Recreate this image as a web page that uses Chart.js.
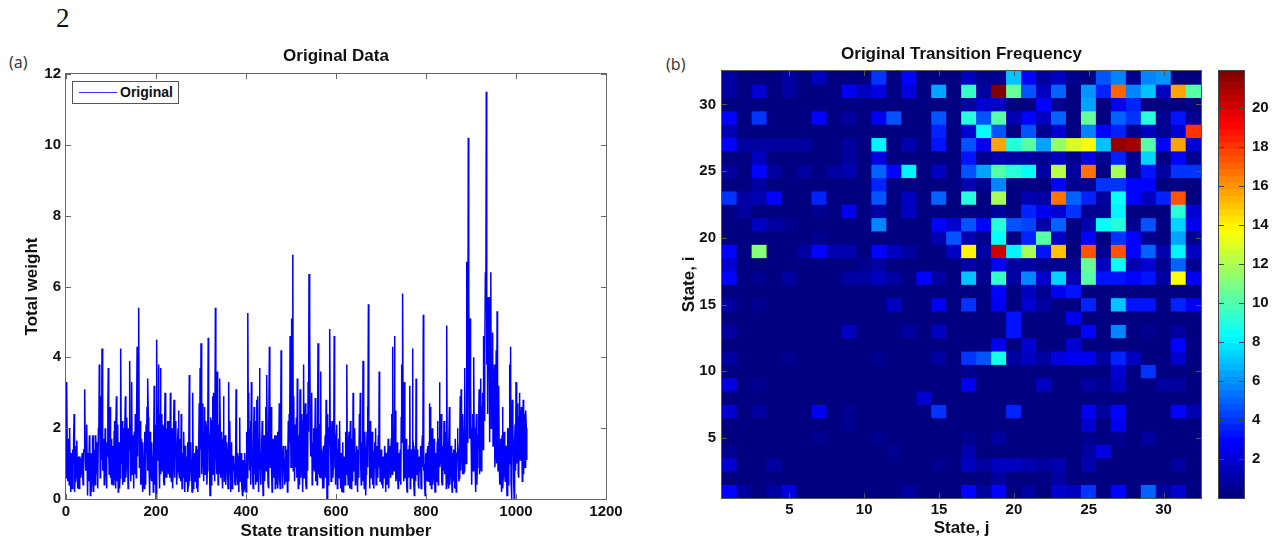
<!DOCTYPE html>
<html>
<head>
<meta charset="utf-8">
<script src="https://cdn.jsdelivr.net/npm/chart.js@4"></script>
<style>
  html, body { margin: 0; padding: 0; background: #fff; }
  body { position: relative; width: 1281px; height: 548px; overflow: hidden; }
  .box { position: absolute; }
  .note { position: absolute; color: #3a3a3a; font: 16px "Noto Sans", sans-serif; }
  #legend { position: absolute; left: 72px; top: 81px; width: 105px; height: 21px; background: #fff;
    border: 1px solid #555; font: bold 14px "Liberation Sans", sans-serif; color: #111; line-height: 21px; }
  #legend i { position: absolute; left: 6px; top: 10px; width: 38px; height: 1px; background: #3333ee; }
  #legend span { position: absolute; left: 47px; top: 0; }
</style>
</head>
<body>
<div class="note" style="left:56px;top:3px;font:27px 'Liberation Serif',serif;color:#111">2</div>
<div class="note" style="left:9px;top:51px">(a)</div>
<div class="note" style="left:666px;top:53px">(b)</div>
<div class="box" style="left:0;top:40px;width:640px;height:508px"><canvas id="weightChart"></canvas></div>
<div class="box" style="left:660px;top:40px;width:555px;height:508px"><canvas id="heatChart"></canvas></div>
<div class="box" style="left:1215px;top:41px;width:66px;height:487px"><canvas id="barChart"></canvas></div>
<div id="legend"><i></i><span>Original</span></div>
<script>
// left panel: total weight, even transition numbers first
const evenWeights = [
  0.6,3.3,0.5,1.7,2.0,0.2,1.3,0.3,1.0,2.4,0.5,1.1,1.65,0.3,1.2,0.7,1.1,0.9,1.3,0.4,1.4,3.1,0.8,2.1,0.1,
  1.2,1.8,0.1,1.3,0.5,1.8,0.2,1.1,1.8,0.7,1.5,2.0,3.8,0.6,2.9,4.25,0.8,1.7,0.9,1.5,0.3,1.2,3.7,0.7,2.6,
  1.0,0.4,1.5,0.8,2.2,0.3,2.9,1.1,0.2,1.6,0.6,4.25,1.5,0.4,2.0,0.7,2.9,0.9,1.8,0.3,1.4,3.9,0.5,3.3,1.2,
  0.3,1.9,2.4,0.6,4.3,3.0,5.4,2.1,0.4,1.7,0.2,1.0,0.3,1.2,2.1,2.6,3.4,1.4,0.1,1.3,0.5,0.9,0.2,3.2,1.0,
  0.0,4.5,1.6,3.8,0.3,3.7,2.4,0.8,2.0,0.4,3.0,1.2,0.6,2.2,0.7,1.8,3.0,0.5,2.0,0.9,2.8,1.1,2.2,0.4,1.6,
  2.5,0.6,1.7,2.4,0.3,1.3,1.9,0.2,1.2,0.7,1.6,0.4,3.5,0.9,1.1,0.2,3.0,0.6,1.3,1.1,0.3,1.4,0.8,2.7,3.7,
  4.4,0.7,2.7,0.5,2.6,1.5,2.0,0.8,4.55,1.8,0.1,2.3,1.4,2.9,3.0,1.6,5.4,1.2,3.6,0.4,2.1,3.4,0.6,1.9,0.3,
  2.9,0.5,1.8,0.9,1.4,0.3,3.3,2.2,0.2,1.6,0.5,1.2,1.0,0.4,3.1,0.7,1.3,0.2,2.3,0.6,1.0,0.1,1.1,0.3,1.0,
  0.2,1.9,5.25,3.0,0.8,2.2,3.3,1.1,0.3,2.6,1.7,0.4,2.8,2.9,0.2,3.7,0.9,1.3,2.2,0.1,1.8,0.5,2.6,3.5,1.0,
  0.3,4.3,0.9,2.6,0.2,1.7,0.6,1.8,1.5,0.4,1.9,0.8,2.7,0.3,4.2,1.1,0.6,1.3,0.4,1.5,1.0,0.2,2.2,2.4,4.6,
  0.9,5.1,6.9,2.9,0.5,1.7,2.3,3.4,0.3,1.8,3.1,0.6,2.4,0.2,3.8,1.2,2.7,0.3,1.6,3.3,6.35,4.8,1.2,3.0,0.7,
  2.0,0.8,2.85,1.3,0.4,4.4,1.8,0.6,3.6,1.4,0.3,1.5,0.9,1.8,2.8,0.0,2.4,1.1,4.8,1.5,0.6,2.2,0.9,4.6,1.8,
  1.1,2.1,0.5,1.7,2.2,0.3,1.3,0.7,0.2,1.2,0.4,1.9,3.8,0.9,1.6,0.6,2.2,0.3,1.7,3.0,0.8,2.0,0.5,1.5,0.2,
  1.1,2.4,3.0,0.4,1.6,3.9,0.7,1.9,0.1,1.2,2.6,5.5,1.6,2.2,0.6,1.9,1.4,0.3,1.6,2.0,0.6,1.3,1.8,3.6,0.5,
  1.4,0.9,0.3,1.2,1.5,0.2,1.3,0.5,1.7,0.8,1.3,1.1,2.4,4.3,1.2,4.6,2.5,0.6,1.6,0.3,1.2,0.9,0.4,3.8,5.8,
  1.0,3.3,0.6,1.7,0.2,1.4,1.0,3.2,0.5,1.3,4.25,1.5,0.1,1.1,3.4,0.7,1.3,0.3,1.1,1.5,0.4,1.8,5.2,1.0,0.1,
  1.3,0.5,1.5,0.8,2.7,2.6,0.3,2.0,0.7,1.7,0.2,1.3,0.9,2.2,0.6,3.3,1.1,2.4,0.4,1.5,2.2,0.7,1.9,4.9,1.0,
  0.3,2.6,0.8,1.5,0.2,1.2,1.4,0.3,1.7,0.5,2.0,1.3,0.6,2.9,3.1,1.2,2.4,0.7,3.7,1.8,6.7,1.6,10.2,4.1,5.1,
  2.0,0.4,2.4,4.0,1.2,0.2,2.4,0.9,1.8,3.1,1.0,3.4,1.5,3.0,4.6,2.2,6.4,11.5,5.7,5.3,5.7,2.6,6.4,3.5,4.7,
  2.0,3.8,1.4,4.2,5.3,0.8,3.2,0.4,1.7,0.2,2.6,0.7,1.9,0.5,1.5,0.1,2.0,0.6,3.8,4.3,0.0,2.8,1.2,0.0,2.1,
  3.3,1.0,2.7,0.6,3.0,1.2,2.6,0.5,2.8,2.4,0.9,2.5,1.1
];
// the odd transition numbers that fall between them
const oddWeights = [
  1.2,0.9,1.6,0.4,1.0,0.8,0.3,1.4,1.7,0.2,1.5,0.6,0.9,1.0,0.3,1.2,0.6,1.1,0.7,1.3,2.0,1.1,1.4,0.9,1.3,
  0.5,1.3,1.1,0.2,1.7,0.6,1.4,0.4,1.3,1.6,0.3,1.9,2.4,1.7,1.1,2.3,1.2,0.4,2.0,0.8,1.6,2.5,1.3,1.8,0.6,
  1.7,1.2,0.4,1.9,0.7,1.8,0.5,2.1,1.5,0.3,2.6,1.0,2.2,1.3,0.5,1.9,0.6,2.3,1.1,2.0,2.5,1.2,2.1,0.7,1.8,
  1.4,0.7,1.6,2.5,1.2,3.6,0.9,2.2,1.1,0.6,1.6,0.5,1.9,0.4,1.3,0.8,2.3,0.6,1.9,0.7,1.6,1.2,1.8,0.4,2.1,
  2.3,1.1,2.6,0.9,2.4,0.7,1.4,2.1,0.5,1.7,0.6,2.0,1.4,0.9,2.2,0.6,1.4,1.7,0.3,1.9,0.6,1.7,1.2,0.8,2.0,
  0.8,1.4,0.5,1.0,1.1,0.6,0.9,1.5,0.5,1.2,0.2,1.8,0.5,1.6,0.9,1.4,0.3,1.2,0.5,1.5,0.9,0.2,1.6,0.6,1.4,
  1.2,2.0,1.0,1.9,0.7,2.2,0.4,1.8,2.0,0.9,1.6,0.4,2.2,0.7,2.1,0.5,2.6,0.7,2.0,1.3,0.7,1.8,1.3,0.6,1.7,
  1.3,1.1,0.4,1.6,0.8,1.5,0.7,1.0,1.4,0.3,1.2,0.8,0.5,1.2,1.6,0.4,1.0,1.2,0.5,1.3,0.4,0.9,0.2,1.3,0.6,
  1.4,0.6,2.3,1.3,2.0,0.4,1.9,0.5,1.8,0.7,2.2,1.1,0.5,1.7,1.2,2.0,0.4,1.6,0.7,1.5,0.9,1.7,0.8,1.9,0.4,
  1.9,2.4,1.3,0.7,1.4,0.9,1.2,0.3,1.8,1.2,0.3,1.6,0.5,1.9,1.5,0.3,1.5,0.8,1.1,0.5,1.4,1.3,0.5,1.6,2.2,
  2.6,1.8,0.8,1.5,2.1,0.9,0.6,1.9,1.2,0.4,1.7,1.5,0.9,2.2,0.6,1.6,0.4,2.4,0.8,1.9,3.1,1.7,2.1,0.4,1.6,
  1.1,1.6,0.5,2.0,1.9,0.7,1.1,2.1,0.6,1.0,0.8,0.3,1.4,0.6,1.7,1.2,0.4,2.0,2.2,0.5,1.7,0.6,1.6,2.0,0.4,
  1.6,0.3,1.4,0.6,0.9,1.0,0.2,1.6,1.1,0.5,1.3,0.7,1.4,0.4,1.9,0.3,1.5,1.1,0.5,1.6,1.2,0.4,1.3,0.8,1.4,
  0.6,1.7,0.9,1.2,0.5,1.6,0.3,1.4,0.7,1.9,0.9,1.8,0.3,1.5,0.7,0.4,1.3,0.9,1.1,0.4,1.5,0.6,0.9,1.2,1.0,
  0.4,1.2,0.7,0.6,1.3,0.8,0.4,1.2,0.3,1.5,0.6,1.7,0.7,2.0,0.8,1.9,0.5,1.4,0.7,1.3,0.5,1.4,2.3,1.6,2.7,
  0.5,1.2,1.3,0.4,1.1,0.6,1.5,0.3,1.4,0.6,1.7,0.4,1.4,0.5,1.0,1.4,0.4,1.2,0.8,0.3,1.3,0.9,0.8,0.4,1.2,
  0.6,1.4,0.5,1.6,0.4,1.2,1.1,0.4,1.5,0.6,1.1,0.5,1.6,0.4,1.7,0.9,1.6,0.5,1.4,0.8,1.3,1.2,0.3,1.6,0.5,
  1.5,0.4,1.4,0.6,1.3,0.5,1.0,1.7,0.2,1.3,1.6,0.5,1.5,0.8,1.8,0.7,1.7,0.8,1.9,1.0,2.4,3.0,5.6,1.7,3.2,
  1.3,1.9,0.8,2.0,1.0,1.6,0.4,1.3,2.2,0.7,2.1,0.8,2.6,1.4,2.9,4.0,5.4,3.8,2.4,4.6,1.6,3.6,2.0,3.1,1.5,
  2.6,0.9,2.8,1.0,2.0,2.4,0.9,1.4,0.6,1.8,0.3,1.5,0.7,1.3,0.8,1.2,0.4,2.0,1.0,0.5,1.7,2.2,0.4,1.6,0.8,
  1.6,2.0,0.7,2.3,1.1,2.0,1.5,1.2,0.7,2.3,1.5,2.0
];
const weightXTicks = [0, 200, 400, 600, 800, 1000, 1200];
const weightYTicks = [0, 2, 4, 6, 8, 10, 12];

// right panel: transition counts, first row is state i = 32, last row is state i = 1
const frequencyRows = [
  [1,0,0,0,1,0,1.5,0,0,0,4,0,2.8,0,0,0,1.5,.5,.5,7,2.8,1,1.7,.5,.3,4.5,5.5,.5,5.5,6,0,0],
  [.8,0,2,0,1,0,0,0,2.7,1.7,2.3,0,2.2,0,6.5,0,9.5,1,22,10.5,4.5,1.7,5,.3,6,3.5,17,5.5,7,1.7,15.5,10],
  [0,0,0,0,0,0,0,0,0,0,0,0,0,0,0,0,.8,2,1.5,.3,0,3,.5,0,6.5,0,2.5,3.5,0,0,0,0],
  [3,0,4,0,0,0,3,0,1,0,2.7,4.5,0,0,4.5,0,9,4.5,10,1.2,3,1.5,5,0,10.5,0,5,4,9,.5,3.3,.5],
  [1.2,0,0,0,0,0,0,0,0,0,0,0,0,0,3.5,0,2,8.3,4.5,.3,4.5,.5,2,0,5.5,3,3.5,.5,1.5,.5,2,18],
  [3,1,1,1,1,.7,0,0,1,0,8,0,1.3,0,3.2,0,4.5,2.7,15.5,9,10,6.5,11.5,12.8,13.7,7,21.5,21,10,3,15.5,2],
  [0,0,1.5,0,0,0,0,0,1,0,2.3,0,0,0,0,0,3.3,.5,1.3,.7,1,.5,1.5,.5,2.3,.4,3.5,.4,7.3,.3,2.8,.5],
  [1,0,3,.7,0,1,0,.7,1.2,0,5,2.8,8,0,1.5,0,4.5,6.3,10,9,8.3,1,12.3,1,16.5,.2,12,.4,3.2,1,4,4],
  [0,0,.8,0,0,0,0,0,0,0,3.5,0,0,0,0,0,1.3,.5,5.5,.2,.2,.2,3,.4,.5,4,4,2.8,2.8,0,0,0],
  [4,1,1.2,3,0,0,3.7,0,0,0,4.5,0,1.5,0,5,0,9,0,12,.3,1.2,1,16.5,5,3.5,1,8.3,3,1.5,3.5,17.5,.3],
  [0,1,0,0,0,0,.5,0,2.7,0,1,0,1.7,0,0,0,.3,.3,.8,0,3.5,2.7,2,3.8,.6,.4,8,0,0,0,9,2],
  [0,0,1.7,1,.6,0,0,0,0,0,5.5,0,0,0,3,1.8,4.5,2.8,9,4.7,4.2,1,5,.2,1.2,8.3,9,.5,4.5,.3,7.5,2.5],
  [0,0,0,0,0,0,.5,0,0,0,0,0,0,0,1.2,4.5,1.3,.6,8.3,.2,3.5,10.3,1.5,.3,3,.3,3.8,3,.5,.3,6.3,.4],
  [3,0,11,0,0,.8,3,1.3,1.3,0,3,1.5,.8,0,0,1.7,14,1,20,8,12,3.2,15,.3,17.5,.5,17.5,3,5,1.3,8,1.5],
  [2,0,0,0,0,0,0,0,0,.6,1,0,0,0,0,0,.8,.6,2.7,.8,.8,.5,.5,.5,10.5,1.7,8.5,1.3,1.8,.5,5,.5],
  [3,0,.5,0,.7,0,0,0,1,.7,1.7,.7,0,3,1,0,7,.4,9.5,1,5.5,2,7.5,1.3,10,3.3,3.3,2.8,3.3,1,13.5,2.7],
  [0,0,0,0,0,0,0,0,0,0,0,0,0,0,0,0,0,0,2.8,0,1.7,.4,2.5,3.3,0,0,0,0,0,0,0,0],
  [.7,0,.4,0,0,0,0,0,0,0,0,1.5,0,0,2.7,0,3.8,0,2.7,0,1.8,.8,0,0,3.5,0,7,3.3,3.3,0,3.5,2.5],
  [0,0,0,0,0,0,0,0,0,0,0,0,0,0,0,0,.3,0,0,3.2,0,0,0,2.7,0,0,0,0,0,0,0,0],
  [1,0,0,0,0,0,0,0,1.5,0,0,0,.7,0,1.5,0,0,0,0,3.3,0,0,0,0,3,0,5.5,0,.4,0,.7,0],
  [0,0,0,0,0,0,0,0,0,0,0,0,0,0,0,0,0,0,2.7,0,1.8,0,0,2,0,0,0,0,0,0,2.8,0],
  [.9,0,0,0,.5,0,0,0,0,0,.5,0,0,0,.8,0,4,4.5,8.7,1,1.5,1,2.3,2.7,2.7,1,3.7,1.5,0,0,2,0],
  [0,0,0,0,0,0,0,0,0,0,0,0,0,0,0,0,.6,0,0,0,0,0,0,0,0,0,1.8,0,3.8,0,0,0],
  [2.2,0,.5,0,0,0,0,0,0,0,0,0,0,0,0,0,2.7,0,0,0,0,1.5,0,0,.8,.5,1.7,0,0,1,.7,0],
  [0,0,0,0,0,0,0,0,0,0,0,0,0,1.8,0,0,0,0,0,0,0,0,0,0,0,.3,.2,0,.3,0,0,0],
  [2,0,1,0,0,0,2.5,0,.5,0,0,0,0,0,3.8,0,0,0,0,3.5,0,0,0,0,2.7,.8,3,0,0,0,3,1.3],
  [0,0,0,0,0,0,0,0,.4,0,0,0,0,0,0,0,0,0,0,0,0,0,0,0,1.8,0,2.7,0,0,0,0,0],
  [0,0,0,0,0,0,.4,0,0,0,.4,0,0,0,0,0,.5,0,.8,0,0,0,0,0,.6,0,.4,0,.8,0,0,0],
  [.6,0,0,0,0,0,0,0,0,0,0,.4,0,0,0,0,1.1,0,0,0,0,0,0,0,.8,2.3,0,0,0,0,0,0],
  [2,0,0,1,0,0,0,0,0,0,0,0,0,0,.4,0,1.6,1,1.4,1.5,1.3,.7,1.2,0,1.1,0,.3,0,.3,0,1,0],
  [0,0,0,0,0,0,0,0,0,0,0,0,0,0,0,0,0,0,1,0,0,0,1,0,0,0,0,0,0,0,0,0],
  [3,1,0,.8,2.2,0,0,0,0,0,0,0,1,0,0,0,3,1,3,0,.9,0,1.8,1.5,4,0,3,0,5,1,2,0]
];
const stateLabels = ['1','2','3','4','5','6','7','8','9','10','11','12','13','14','15','16','17','18','19','20','21','22','23','24','25','26','27','28','29','30','31','32'];
const stateTicks = [5, 10, 15, 20, 25, 30];
const colorbarTicks = [2, 4, 6, 8, 10, 12, 14, 16, 18, 20];
const maxFrequency = 22;

const tickFont = { family: '"Liberation Sans", Arial, sans-serif', size: 15, weight: 'bold' };
const titleFont = { family: '"Liberation Sans", Arial, sans-serif', size: 17, weight: 'bold' };
const inkColor = '#111';

// jet colormap, 64 steps like matlab
function jet(value) {
  const t = Math.min(Math.floor(value / maxFrequency * 64), 63) / 63;
  const c = x => Math.round(255 * Math.max(0, Math.min(1, x)));
  const r = c(Math.min(4 * t - 1.5, -4 * t + 4.5));
  const g = c(Math.min(4 * t - 0.5, -4 * t + 3.5));
  const b = c(Math.min(4 * t + 0.5, -4 * t + 2.5));
  return `rgb(${r},${g},${b})`;
}

// matlab style box with small ticks pointing inwards
const boxTicks = {
  id: 'boxTicks',
  afterDatasetsDraw(chart, args, opts) {
    const { ctx, chartArea: a, scales } = chart;
    ctx.save();
    ctx.strokeStyle = opts.color;
    ctx.lineWidth = 1;
    ctx.strokeRect(a.left - 0.5, a.top - 0.5, a.right - a.left + 1, a.bottom - a.top + 1);
    ctx.beginPath();
    if (scales.x && opts.xTicks) {
      opts.xTicks.forEach(v => {
        const px = Math.round(scales.x.getPixelForValue(v)) + 0.5;
        ctx.moveTo(px, a.bottom); ctx.lineTo(px, a.bottom - 5);
        ctx.moveTo(px, a.top); ctx.lineTo(px, a.top + 5);
      });
    }
    opts.yTicks.forEach(v => {
      const py = Math.round(scales.y.getPixelForValue(v)) + 0.5;
      ctx.moveTo(a.left, py); ctx.lineTo(a.left + 5, py);
      ctx.moveTo(a.right, py); ctx.lineTo(a.right - 5, py);
    });
    ctx.stroke();
    ctx.restore();
  }
};

// navy under the cells so no seams show between them
const cellBackground = {
  id: 'cellBackground',
  beforeDatasetsDraw(chart) {
    const { ctx, chartArea: a } = chart;
    ctx.save();
    ctx.fillStyle = jet(0);
    ctx.fillRect(a.left, a.top, a.right - a.left, a.bottom - a.top);
    ctx.restore();
  }
};

const setTicks = list => scale => { scale.ticks = list.map(v => ({ value: v })); };
const fixWidth = w => scale => { scale.width = w; };
const fixHeight = h => scale => { scale.height = h; };
const plainNumber = value => String(value);
const noGrid = { display: false, drawTicks: false };

// put the even and odd readings back in transition order
const weightPoints = [];
evenWeights.forEach((w, i) => {
  weightPoints.push({ x: i * 2, y: w });
  if (i < oddWeights.length) weightPoints.push({ x: i * 2 + 1, y: oddWeights[i] });
});

// 1. original data line
new Chart(document.getElementById('weightChart'), {
  type: 'line',
  data: {
    datasets: [{
      label: 'Original',
      data: weightPoints,
      borderColor: '#0000ff',
      borderWidth: 1.5,
      pointRadius: 0,
      tension: 0
    }]
  },
  options: {
    responsive: true,
    maintainAspectRatio: false,
    animation: false,
    layout: { padding: { left: 0, right: 34, top: 0, bottom: 0 } },
    plugins: {
      legend: { display: false },
      tooltip: { enabled: false },
      title: { display: true, text: 'Original Data', fullSize: false, color: inkColor, font: titleFont, padding: { top: 6, bottom: 7.6 } },
      boxTicks: { color: '#666', xTicks: weightXTicks, yTicks: weightYTicks }
    },
    scales: {
      x: {
        type: 'linear', min: 0, max: 1200,
        afterBuildTicks: setTicks(weightXTicks),
        afterFit: fixHeight(49),
        grid: noGrid,
        border: { display: false },
        ticks: { color: inkColor, font: tickFont, maxRotation: 0, padding: 4, callback: plainNumber },
        title: { display: true, text: 'State transition number', color: inkColor, font: titleFont, padding: { top: 2, bottom: 6 } }
      },
      y: {
        min: 0, max: 12,
        afterBuildTicks: setTicks(weightYTicks),
        afterFit: fixWidth(66),
        grid: noGrid,
        border: { display: false },
        ticks: { color: inkColor, font: tickFont, padding: 5, callback: plainNumber },
        title: { display: true, text: 'Total weight', color: inkColor, font: titleFont, padding: { top: 22, bottom: 0 } }
      }
    }
  },
  plugins: [boxTicks]
});

// 2. transition frequency cells, each row of the matrix is one dataset of floating bars
const rowCount = frequencyRows.length;
new Chart(document.getElementById('heatChart'), {
  type: 'bar',
  data: {
    labels: stateLabels,
    datasets: frequencyRows.map((row, i) => ({
      label: 'State ' + (rowCount - i),
      data: row.map(() => [rowCount - i - 0.5, rowCount - i + 0.5]),
      backgroundColor: row.map(jet),
      borderWidth: 0,
      grouped: false,
      barPercentage: 1,
      categoryPercentage: 1
    }))
  },
  options: {
    responsive: true,
    maintainAspectRatio: false,
    animation: false,
    layout: { padding: { left: 0, right: 14, top: 0, bottom: 0 } },
    plugins: {
      legend: { display: false },
      tooltip: { enabled: false },
      title: { display: true, text: 'Original Transition Frequency', fullSize: false, color: inkColor, font: titleFont, padding: { top: 4, bottom: 6.6 } },
      boxTicks: { color: '#555', xTicks: stateTicks.map(v => v - 1), yTicks: stateTicks }
    },
    scales: {
      x: {
        afterFit: fixHeight(50),
        grid: noGrid,
        border: { display: false },
        ticks: {
          color: inkColor, font: tickFont, maxRotation: 0, autoSkip: false, padding: 3,
          callback(value) {
            const label = this.getLabelForValue(value);
            return stateTicks.includes(Number(label)) ? label : '';
          }
        },
        title: { display: true, text: 'State, j', color: inkColor, font: titleFont, padding: { top: 2, bottom: 9 } }
      },
      y: {
        min: 0.5, max: 32.5,
        afterBuildTicks: setTicks(stateTicks),
        afterFit: fixWidth(62),
        grid: noGrid,
        border: { display: false },
        ticks: { color: inkColor, font: tickFont, padding: 6, callback: plainNumber },
        title: { display: true, text: 'State, i', color: inkColor, font: titleFont, padding: { top: 19, bottom: 0 } }
      }
    }
  },
  plugins: [cellBackground, boxTicks]
});

// 3. colour bar, 64 bands
const bandSize = maxFrequency / 64;
const bandStarts = Array.from({ length: 64 }, (_, i) => i * bandSize);
new Chart(document.getElementById('barChart'), {
  type: 'bar',
  data: {
    labels: ['Frequency'],
    datasets: bandStarts.map(start => ({
      label: start.toFixed(2),
      data: [[start, start + bandSize]],
      backgroundColor: jet(start + bandSize / 2),
      borderWidth: 0,
      grouped: false,
      barPercentage: 1,
      categoryPercentage: 1
    }))
  },
  options: {
    responsive: true,
    maintainAspectRatio: false,
    animation: false,
    layout: { padding: { left: 4, right: 0, top: 30, bottom: 30 } },
    plugins: {
      legend: { display: false },
      tooltip: { enabled: false },
      boxTicks: { color: '#444', yTicks: colorbarTicks }
    },
    scales: {
      x: { display: false },
      y: {
        position: 'right',
        min: 0, max: 21.9,
        afterBuildTicks: setTicks(colorbarTicks),
        afterFit: fixWidth(37),
        grid: noGrid,
        border: { display: false },
        ticks: { color: inkColor, font: tickFont, padding: 8, callback: plainNumber }
      }
    }
  },
  plugins: [boxTicks]
});
</script>
</body>
</html>
